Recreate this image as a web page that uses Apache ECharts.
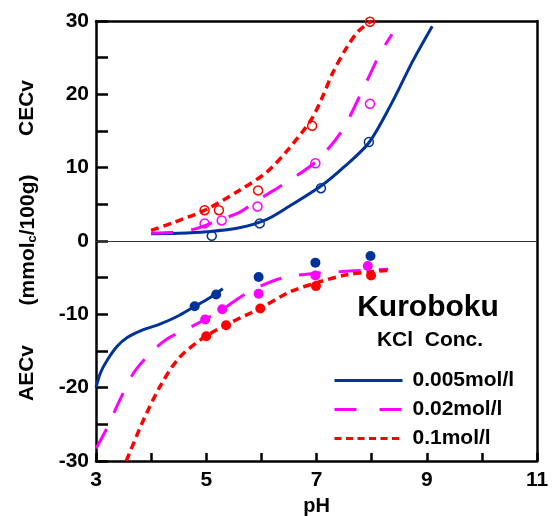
<!DOCTYPE html>
<html>
<head>
<meta charset="utf-8">
<script src="https://cdn.jsdelivr.net/npm/echarts@6/dist/echarts.min.js"></script>
<style>
  html, body { margin: 0; padding: 0; background: #fff; }
  #chart { width: 552px; height: 516px; }
</style>
</head>
<body>
<div id="chart"></div>
<script>
// Fitted curves (pH, mmolc/100g): CEC positive, AEC negative
const curveBlueCEC = [[4.0,1.0],[4.5,1.05],[5.0,1.25],[5.6,1.8],[6.1,2.95],[6.5,4.7],[7.1,7.6],[7.5,10.1],[7.95,13.4],[8.35,18.6],[8.75,24.6],[9.1,29.3]];
const curveMagentaCEC = [[4.0,1.1],[4.4,1.2],[4.8,1.65],[5.25,2.9],[5.6,3.9],[5.9,5.4],[6.2,6.8],[6.5,8.2],[7.0,10.9],[7.45,14.9],[7.8,20.0],[8.15,25.5],[8.37,28.2]];
const curveRedCEC = [[4.0,1.45],[4.4,2.5],[5.0,4.3],[5.6,6.9],[6.1,9.4],[6.5,12.6],[6.9,16.5],[7.1,19.5],[7.3,23.0],[7.55,26.4],[7.76,28.6],[8.0,30.0]];
const curveBlueAEC = [[3.0,-20.0],[3.08,-18.0],[3.2,-16.3],[3.38,-14.4],[3.56,-13.2],[3.86,-12.1],[4.17,-11.3],[4.47,-10.3],[4.77,-9.0],[5.05,-7.8],[5.3,-6.5]];
const curveMagentaAEC = [[3.0,-28.3],[3.2,-25.5],[3.45,-21.4],[3.7,-17.8],[4.0,-15.2],[4.3,-13.3],[4.6,-12.2],[5.0,-10.6],[5.3,-9.3],[5.65,-7.5],[6.0,-6.1],[6.4,-5.0],[6.9,-4.45],[7.6,-4.1],[8.3,-3.85]];
const curveRedAEC = [[3.55,-30.0],[3.85,-24.6],[4.15,-20.0],[4.5,-16.0],[4.95,-13.2],[5.45,-11.1],[6.0,-9.1],[6.5,-7.0],[7.0,-5.7],[7.55,-4.6],[8.0,-4.2],[8.3,-4.0]];

// Measured values: open circles = CECv, filled circles = AECv
const ptsBlueCEC = [[5.1,0.7],[5.97,2.4],[7.08,7.2],[7.95,13.5]];
const ptsMagentaCEC = [[4.97,2.4],[5.28,2.8],[5.93,4.7],[6.98,10.6],[7.97,18.7]];
const ptsRedCEC = [[4.97,4.2],[5.23,4.2],[5.94,6.9],[6.92,15.7],[7.97,29.9]];
const ptsBlueAEC = [[4.79,-8.9],[5.18,-7.3],[5.95,-4.9],[6.98,-2.95],[7.98,-2.05]];
const ptsMagentaAEC = [[4.98,-10.7],[5.29,-9.3],[5.95,-7.2],[6.98,-4.7],[7.93,-3.4]];
const ptsRedAEC = [[5.0,-13.0],[5.36,-11.5],[5.98,-9.2],[6.99,-6.15],[7.99,-4.7]];

const seriesNames = ['0.005mol/l', '0.02mol/l', '0.1mol/l'];
const xTicks = [3, 5, 7, 9, 11];
const yTicks = [-30, -20, -10, 0, 10, 20, 30];

const FONT = '"Liberation Sans", Arial, sans-serif';
const BLUE = '#003399', MAGENTA = '#ff00ff', RED = '#ff0000';
const styles = [
  { color: BLUE, type: 'solid', width: 3 },
  { color: MAGENTA, type: [22, 18], width: 3 },
  { color: RED, type: [8, 5], width: 3.5 }
];

function curve(name, data, st) {
  return {
    name, type: 'line', data, symbol: 'none', showSymbol: false, smooth: 0.3,
    lineStyle: { color: st.color, type: st.type, width: st.width, cap: 'butt' },
    itemStyle: { color: st.color }, z: 3
  };
}
function pts(data, color, filled) {
  return {
    type: 'scatter', data, symbol: 'circle', symbolSize: filled ? 10 : 9,
    itemStyle: filled
      ? { color, opacity: 1 }
      : { color: 'rgba(255,255,255,0)', borderColor: color, borderWidth: 1.5, opacity: 1 },
    z: 4
  };
}

const chart = echarts.init(document.getElementById('chart'), null, { renderer: 'canvas' });
chart.setOption({
  animation: false,
  grid: { left: 96, right: 15, top: 21, bottom: 55, containLabel: false, outerBoundsMode: 'none' },
  xAxis: [{
    type: 'value', min: 3, max: 11, interval: 1,
    name: 'pH', nameLocation: 'middle', nameGap: 35,
    nameTextStyle: { fontFamily: FONT, fontWeight: 'bold', fontSize: 20, color: '#000' },
    axisLine: { onZero: false, lineStyle: { color: '#000', width: 2.5 } },
    axisTick: { inside: true, length: 8, lineStyle: { color: '#000', width: 2.5 } },
    axisLabel: {
      margin: 9, fontFamily: FONT, fontWeight: 'bold', fontSize: 21, color: '#000',
      formatter: v => xTicks.includes(v) ? String(v) : ''
    },
    splitLine: { show: false }
  }, {
    type: 'value', min: 3, max: 11, position: 'top',
    axisLine: { onZero: false, lineStyle: { color: '#000', width: 2.5 } },
    axisTick: { show: false }, axisLabel: { show: false }, splitLine: { show: false }
  }],
  yAxis: [{
    type: 'value', min: -30, max: 30, interval: 5,
    axisLine: { onZero: false, lineStyle: { color: '#000', width: 2.5 } },
    axisTick: { inside: true, length: 12, lineStyle: { color: '#000', width: 2.5 } },
    axisLabel: {
      margin: 7, fontFamily: FONT, fontWeight: 'bold', fontSize: 21, color: '#000',
      formatter: v => yTicks.includes(v) ? String(v) : ''
    },
    splitLine: { show: false }
  }, {
    type: 'value', min: -30, max: 30, position: 'right',
    axisLine: { onZero: false, lineStyle: { color: '#000', width: 2.5 } },
    axisTick: { show: false }, axisLabel: { show: false }, splitLine: { show: false }
  }],
  legend: {
    orient: 'vertical', left: 333, top: 370, padding: 0,
    itemWidth: 68, itemHeight: 14, itemGap: 8,
    itemStyle: { opacity: 0 },
    textStyle: { fontFamily: FONT, fontWeight: 'bold', fontSize: 21, color: '#000', lineHeight: 20, padding: [0, 0, 0, 5] },
    data: [
      { name: seriesNames[0], lineStyle: { type: 'solid', width: 3 } },
      { name: seriesNames[1], lineStyle: { type: [22, 23], width: 3 } },
      { name: seriesNames[2], lineStyle: { type: [7, 4.5], width: 3 } }
    ]
  },
  graphic: [
    { type: 'text', x: 428, y: 308, z: 10,
      style: { text: 'Kuroboku', fill: '#000', font: 'bold 30px ' + FONT, textAlign: 'center', textVerticalAlign: 'middle' } },
    { type: 'text', x: 430, y: 340, z: 10,
      style: { text: 'KCl  Conc.', fill: '#000', font: 'bold 21px ' + FONT, textAlign: 'center', textVerticalAlign: 'middle' } },
    { type: 'text', x: 27, y: 108, rotation: Math.PI / 2, z: 10,
      style: { text: 'CECv', fill: '#000', font: 'bold 21px ' + FONT, textAlign: 'center', textVerticalAlign: 'middle' } },
    { type: 'text', x: 27, y: 240, rotation: Math.PI / 2, z: 10,
      style: {
        text: '{m|(mmol}{s|c}{m|/100g)}', textAlign: 'center', textVerticalAlign: 'middle',
        rich: {
          m: { fontFamily: FONT, fontWeight: 'bold', fontSize: 21, fill: '#000', lineHeight: 24, verticalAlign: 'bottom' },
          s: { fontFamily: FONT, fontWeight: 'bold', fontSize: 13, fill: '#000', lineHeight: 24, verticalAlign: 'bottom', padding: [8, 0, 0, 0] }
        }
      } },
    { type: 'text', x: 27, y: 373, rotation: Math.PI / 2, z: 10,
      style: { text: 'AECv', fill: '#000', font: 'bold 21px ' + FONT, textAlign: 'center', textVerticalAlign: 'middle' } }
  ],
  series: [
    Object.assign(curve(seriesNames[0], curveBlueCEC, styles[0]), {
      markLine: {
        silent: true, symbol: 'none', label: { show: false },
        lineStyle: { color: '#333', width: 1.2, type: 'solid' },
        data: [{ yAxis: 0 }]
      }
    }),
    curve(seriesNames[1], curveMagentaCEC, styles[1]),
    curve(seriesNames[2], curveRedCEC, styles[2]),
    curve(seriesNames[0], curveBlueAEC, styles[0]),
    curve(seriesNames[1], curveMagentaAEC, styles[1]),
    curve(seriesNames[2], curveRedAEC, styles[2]),
    pts(ptsBlueCEC, BLUE, false),
    pts(ptsMagentaCEC, MAGENTA, false),
    pts(ptsRedCEC, RED, false),
    pts(ptsBlueAEC, BLUE, true),
    pts(ptsMagentaAEC, MAGENTA, true),
    pts(ptsRedAEC, RED, true)
  ]
});
</script>
</body>
</html>
